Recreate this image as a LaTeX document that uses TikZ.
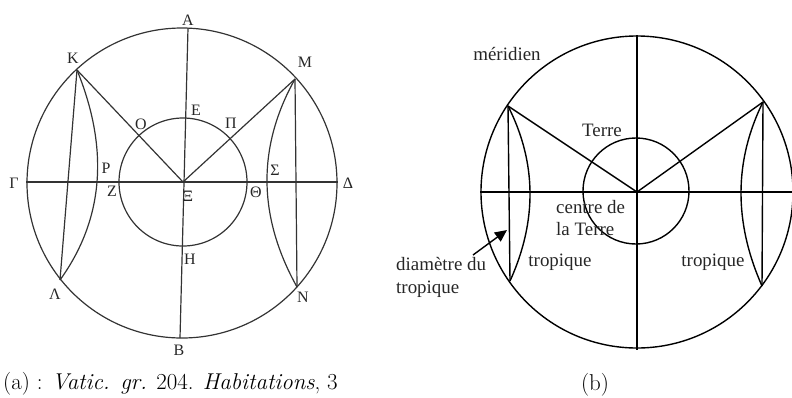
\documentclass[tikz,border=0pt]{standalone}
\usepackage{fontspec}
\newfontfamily\labfont{Liberation Serif}
\usetikzlibrary{calc,arrows.meta}
\tikzset{
  lline/.style={line width=1.2pt, draw=black!80},
  rline/.style={line width=1.4pt, draw=black},
  glab/.style={font=\labfont\fontsize{16}{16}\selectfont, text=black!85, inner sep=0pt},
  rlab/.style={font=\labfont\fontsize{19}{23}\selectfont, text=black!85, inner sep=0pt},
  captext/.style={font=\fontsize{23}{26}\selectfont, inner sep=0pt},
}
\begin{document}
\begin{tikzpicture}[x=1bp,y=-1bp]
\useasboundingbox (0,0) rectangle (792,397);
% ---------------- left diagram (a) ----------------
\coordinate (oc) at (182,183);
\coordinate (Xi) at (183,182);
\coordinate (A) at (188,28);
\coordinate (B) at (180,338);
\coordinate (G) at (26,182);
\coordinate (D) at (338,182);
\coordinate (K) at (77,70);
\coordinate (M) at (295,79);
\coordinate (L) at (60,280);
\coordinate (N) at (297,287);
\coordinate (qK) at (125.5,189);
\coordinate (qM) at (238,181);
\draw[lline] (oc) circle[radius=155bp];
\draw[lline] (Xi) circle[radius=64bp];
\draw[lline] (A) -- (B);
\draw[lline] (G) -- (D);
\draw[lline] (K) -- (Xi) -- (M);
\draw[lline] (K) -- (L);
\draw[lline] (M) -- (N);
\draw[lline] (K) .. controls ($(K)!2/3!(qK)$) and ($(L)!2/3!(qK)$) .. (L);
\draw[lline] (M) .. controls ($(M)!2/3!(qM)$) and ($(N)!2/3!(qM)$) .. (N);
\node[glab] (lA) at (188,20) {Α};
\node[glab] (lK) at (73,58) {Κ};
\node[glab] (lM) at (305,62) {Μ};
\node[glab] (lE) at (196,110) {Ε};
\node[glab] (lO) at (141,124) {Ο};
\node[glab] (lP) at (231,123) {Π};
\node[glab] (lG) at (14,183) {Γ};
\node[glab] (lR) at (106,168) {Ρ};
\node[glab] (lZ) at (112,191) {Ζ};
\node[glab] (lXi) at (188,196) {Ξ};
\node[glab] (lTh) at (256,192) {Θ};
\node[glab] (lS) at (275,170) {Σ};
\node[glab] (lD) at (348,183) {Δ};
\node[glab] (lH) at (190,259) {Η};
\node[glab] (lL) at (55,294) {Λ};
\node[glab] (lN) at (303,297) {Ν};
\node[glab] (lB) at (179,350) {Β};
\node[captext, anchor=west] (capa) at (3,384) {(a) : \textit{Vatic. gr.} 204. \textit{Habitations}, 3};
% ---------------- right diagram (b) ----------------
\coordinate (C) at (637,192);
\coordinate (T) at (637,35);
\coordinate (Bt) at (637,350);
\coordinate (W) at (480,192);
\coordinate (E) at (792,192);
\coordinate (K2) at (508,106);
\coordinate (L2) at (510,281);
\coordinate (M2) at (763,102);
\coordinate (N2) at (762,286);
\coordinate (qK2) at (551,190.5);
\coordinate (qM2) at (719.5,190);
\draw[rline] (C) circle[radius=156bp];
\draw[rline] (636,191) circle[radius=53bp];
\draw[rline] (T) -- (Bt);
\draw[rline] (W) -- (E);
\draw[rline] (K2) -- (C) -- (M2);
\draw[rline] (K2) -- (L2);
\draw[rline] (M2) -- (N2);
\draw[rline] (K2) .. controls ($(K2)!2/3!(qK2)$) and ($(L2)!2/3!(qK2)$) .. (L2);
\draw[rline] (M2) .. controls ($(M2)!2/3!(qM2)$) and ($(N2)!2/3!(qM2)$) .. (N2);
\node[rlab] (mer) at (507,54) {méridien};
\node[rlab] (terre) at (602,130) {Terre};
\node[rlab, anchor=west, align=left] (centre) at (556,218) {centre de\\la Terre};
\node[rlab] (tropL) at (560,262) {tropique};
\node[rlab] (tropR) at (713,262) {tropique};
\node[rlab, anchor=west, align=left] (diam) at (396,277) {diamètre du\\tropique};
\coordinate (arrT) at (473,255);
\coordinate (arrH) at (507,230);
\draw[rline, -{Triangle[length=12bp,width=11bp]}] (arrT) -- (arrH);
\node[captext] (capb) at (595,385) {(b)};
\end{tikzpicture}
\end{document}
